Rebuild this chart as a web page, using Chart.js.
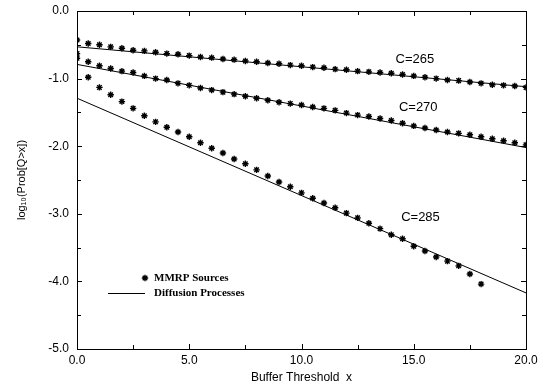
<!DOCTYPE html>
<html>
<head>
<meta charset="utf-8">
<script src="https://cdn.jsdelivr.net/npm/chart.js@4.4.1/dist/chart.umd.min.js"></script>
<style>
  html, body { margin: 0; padding: 0; background: #fff; }
  #wrap { width: 540px; height: 386px; }
</style>
</head>
<body>
<div id="wrap"><canvas id="myChart"></canvas></div>
<script>
// Simulated points (MMRP sources), one value every 0.5 of buffer threshold
const xPoints = [0, 0.5, 1, 1.5, 2, 2.5, 3, 3.5, 4, 4.5, 5, 5.5, 6, 6.5, 7, 7.5, 8, 8.5, 9, 9.5,
  10, 10.5, 11, 11.5, 12, 12.5, 13, 13.5, 14, 14.5, 15, 15.5, 16, 16.5, 17, 17.5, 18, 18.5, 19, 19.5, 20];

const mmrp265 = [-0.43, -0.48, -0.50, -0.53, -0.55, -0.58, -0.59, -0.61, -0.63, -0.64,
  -0.66, -0.68, -0.69, -0.71, -0.72, -0.74, -0.75, -0.77, -0.78, -0.80,
  -0.81, -0.83, -0.84, -0.86, -0.87, -0.89, -0.90, -0.91, -0.92, -0.94,
  -0.96, -0.98, -1.00, -1.02, -1.03, -1.05, -1.07, -1.09, -1.10, -1.11, -1.13];

const mmrp270 = [-0.63, -0.75, -0.81, -0.85, -0.89, -0.91, -0.96, -1.00, -1.02, -1.07,
  -1.10, -1.14, -1.17, -1.20, -1.23, -1.26, -1.29, -1.32, -1.35, -1.37,
  -1.39, -1.42, -1.44, -1.47, -1.51, -1.54, -1.56, -1.59, -1.62, -1.66,
  -1.70, -1.73, -1.76, -1.79, -1.81, -1.83, -1.86, -1.89, -1.92, -1.95, -1.98];

// C=285 stops at x = 18
const mmrp285 = [-0.70, -0.98, -1.13, -1.24, -1.34, -1.44, -1.55, -1.64, -1.72, -1.79,
  -1.86, -1.95, -2.03, -2.10, -2.19, -2.26, -2.35, -2.44, -2.53, -2.60,
  -2.69, -2.77, -2.84, -2.91, -2.99, -3.06, -3.14, -3.22, -3.31, -3.37,
  -3.48, -3.55, -3.64, -3.70, -3.77, -3.89, -4.04];

// Diffusion approximation: straight lines
const diffX = [0, 20];
const diff265 = [-0.53, -1.12];
const diff270 = [-0.79, -2.02];
const diff285 = [-1.29, -4.17];

// Axis ticks
const xTicks = [0, 5, 10, 15, 20];
const yTicks = [-5, -4, -3, -2, -1, 0];
const xMinor = [2.5, 7.5, 12.5, 17.5];
const yMinor = [-4.5, -3.5, -2.5, -1.5, -0.5];

const curveLabels = ['C=265', 'C=270', 'C=285'];
const curveLabelAt = [[15.05, -0.71], [15.2, -1.42], [15.3, -3.06]];
const legendLabels = ['MMRP Sources', 'Diffusion Processes'];

const pts = (xs, ys) => ys.map((y, i) => ({ x: xs[i], y: y }));

const starSet = (label, ys) => ({
  label: label,
  data: pts(xPoints, ys),
  showLine: false,
  pointStyle: 'star',
  pointRadius: 3.2,
  pointBorderWidth: 1.4,
  pointBorderColor: '#000',
  pointBackgroundColor: '#000'
});

const lineSet = (label, ys) => ({
  label: label,
  data: pts(diffX, ys),
  showLine: true,
  borderColor: '#000',
  borderWidth: 1,
  pointRadius: 0
});

// box around the plot, ticks pointing inward on all four sides, text labels, legend
const frameTicks = {
  id: 'frameTicks',
  afterDatasetsDraw(chart) {
    const { ctx, chartArea: a, scales: { x, y } } = chart;
    ctx.save();
    ctx.strokeStyle = '#000';
    ctx.lineWidth = 1;
    ctx.strokeRect(a.left + 0.5, a.top + 0.5, a.right - a.left, a.bottom - a.top);

    ctx.beginPath();
    const xt = (vals, len) => vals.forEach(v => {
      const px = Math.round(x.getPixelForValue(v)) + 0.5;
      ctx.moveTo(px, a.bottom); ctx.lineTo(px, a.bottom - len);
      ctx.moveTo(px, a.top); ctx.lineTo(px, a.top + len);
    });
    const yt = (vals, len) => vals.forEach(v => {
      const py = Math.round(y.getPixelForValue(v)) + 0.5;
      ctx.moveTo(a.left, py); ctx.lineTo(a.left + len, py);
      ctx.moveTo(a.right, py); ctx.lineTo(a.right - len, py);
    });
    xt(xTicks, 5); xt(xMinor, 4);
    yt(yTicks, 5); yt(yMinor, 4);
    ctx.stroke();

    // curve labels
    ctx.fillStyle = '#000';
    ctx.font = '13px "Liberation Sans", Arial, sans-serif';
    ctx.textAlign = 'center';
    ctx.textBaseline = 'middle';
    curveLabels.forEach((t, i) => {
      ctx.fillText(t, x.getPixelForValue(curveLabelAt[i][0]), y.getPixelForValue(curveLabelAt[i][1]));
    });

    // legend
    const lx = a.left + 68;
    const ly = a.bottom - 71;
    ctx.lineWidth = 1.4;
    ctx.beginPath();
    for (let k = 0; k < 4; k++) {
      const ang = k * Math.PI / 4;
      ctx.moveTo(lx - 3.2 * Math.cos(ang), ly - 3.2 * Math.sin(ang));
      ctx.lineTo(lx + 3.2 * Math.cos(ang), ly + 3.2 * Math.sin(ang));
    }
    ctx.stroke();
    ctx.lineWidth = 1;
    ctx.beginPath();
    ctx.moveTo(lx - 37, ly + 15.5);
    ctx.lineTo(lx, ly + 15.5);
    ctx.stroke();
    ctx.font = 'bold 11px "Liberation Serif", "Times New Roman", serif';
    ctx.textAlign = 'left';
    ctx.fillText(legendLabels[0], lx + 9, ly);
    ctx.fillText(legendLabels[1], lx + 9, ly + 15);
    ctx.restore();
  }
};

const ctx = document.getElementById('myChart');

new Chart(ctx, {
  type: 'scatter',
  data: {
    datasets: [
      starSet('C=265', mmrp265),
      starSet('C=270', mmrp270),
      starSet('C=285', mmrp285),
      lineSet('Diffusion 265', diff265),
      lineSet('Diffusion 270', diff270),
      lineSet('Diffusion 285', diff285)
    ]
  },
  options: {
    responsive: true,
    maintainAspectRatio: false,
    animation: false,
    layout: { padding: { left: 0, right: 14, top: 11, bottom: 0 } },
    plugins: {
      legend: { display: false },
      tooltip: { enabled: false }
    },
    scales: {
      x: {
        type: 'linear',
        min: 0,
        max: 20,
        afterBuildTicks: s => { s.ticks = xTicks.map(v => ({ value: v })); },
        afterFit: s => { s.height = 37; s.paddingLeft = 0; s.paddingRight = 0; },
        grid: { display: false, drawTicks: false },
        border: { display: false },
        ticks: {
          color: '#000',
          padding: 4,
          maxRotation: 0,
          font: { family: '"Liberation Sans", Arial, sans-serif', size: 12 },
          callback: v => v.toFixed(1)
        },
        title: {
          display: true,
          text: 'Buffer Threshold  x',
          color: '#000',
          padding: { top: 0, bottom: 1 },
          font: { family: '"Liberation Sans", Arial, sans-serif', size: 12 }
        }
      },
      y: {
        type: 'linear',
        min: -5,
        max: 0,
        afterBuildTicks: s => { s.ticks = yTicks.map(v => ({ value: v })); },
        afterFit: s => { s.width = 77; s.paddingTop = 0; s.paddingBottom = 0; },
        grid: { display: false, drawTicks: false },
        border: { display: false },
        ticks: {
          color: '#000',
          padding: 8,
          font: { family: '"Liberation Sans", Arial, sans-serif', size: 12 },
          callback: v => v.toFixed(1)
        },
        title: {
          display: true,
          text: 'log\u2081\u2080(Prob[Q>x])',
          color: '#000',
          padding: { top: 15, bottom: 0 },
          font: { family: '"Liberation Sans", Arial, sans-serif', size: 11 }
        }
      }
    }
  },
  plugins: [frameTicks]
});
</script>
</body>
</html>
